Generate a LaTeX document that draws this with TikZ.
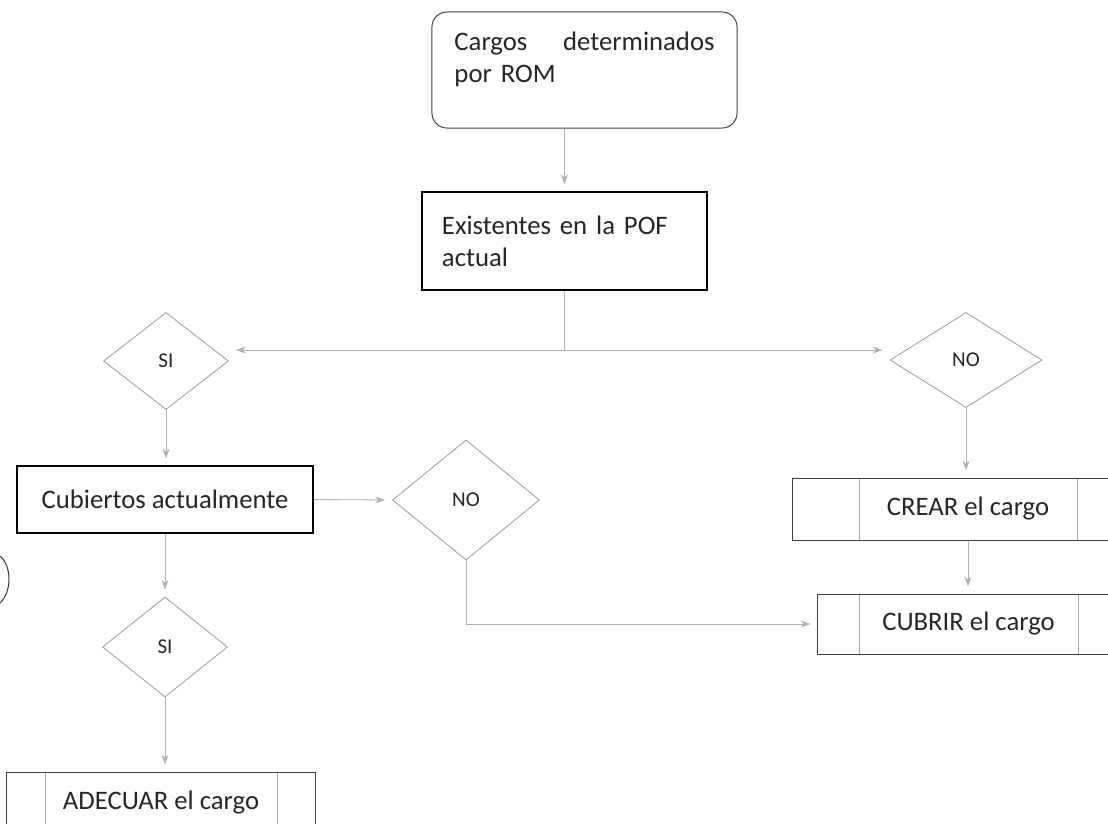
\documentclass[tikz,border=0pt]{standalone}
\usepackage{fontspec}
\setmainfont{Carlito}
\usetikzlibrary{shapes.geometric, arrows.meta}

\tikzset{
  txt/.style={text=black!85, font=\fontsize{19}{23}\selectfont},
  box/.style={txt, rectangle, draw=black, line width=0.9pt, inner sep=0pt},
  roundbox/.style={txt, rectangle, draw=black!75, line width=0.7pt,
    rounded corners=0.375cm, inner sep=0pt},
  decision/.style={diamond, draw=gray!75, line width=0.6pt, inner sep=0pt,
    text=black!85, font=\fontsize{15}{18}\selectfont},
  subproc/.style={txt, rectangle, draw=black!75, line width=0.7pt, inner sep=0pt,
    path picture={
      \draw[gray!70, line width=0.6pt]
        ([xshift=#1]path picture bounding box.north west) --
        ([xshift=#1]path picture bounding box.south west);
      \draw[gray!70, line width=0.6pt]
        ([xshift=-#1]path picture bounding box.north east) --
        ([xshift=-#1]path picture bounding box.south east);
    }},
  link/.style={draw=gray!60, line width=0.6pt},
  arr/.style={link, -{Stealth[length=7pt, width=5pt]}, shorten >=5pt}
}

\begin{document}
\begin{tikzpicture}[x=0.025cm, y=-0.025cm]
    \useasboundingbox (0,0) rectangle (1108,823);

    % top of the chart
    \node[
    roundbox,
    minimum width = 7.625cm,
    minimum height = 2.9cm,
    text width = 6.5cm,
    align = left
    ] (rom) at (584.5,70) {Cargos\hfill determinados\\por ROM\\[-5pt]\mbox{}};
    \node[
    box,
    minimum width = 7.125cm,
    minimum height = 2.45cm,
    text width = 6.125cm,
    align = left
    ] (pof) at (564.5,241) {Existentes en la POF\\actual};
    \coordinate (split) at (564.5,350);

    % left branch
    \node[
    decision,
    minimum width = 3.125cm,
    minimum height = 2.425cm
    ] (si1) at (166,361) {SI};
    \node[
    box,
    minimum width = 7.4cm,
    minimum height = 1.675cm
    ] (cub) at (165,499.5) {Cubiertos actualmente};
    \node[
    decision,
    minimum width = 3.675cm,
    minimum height = 3cm
    ] (nom) at (466,500) {NO};
    \node[
    decision,
    minimum width = 3.125cm,
    minimum height = 2.5cm
    ] (si2) at (165,647) {SI};
    \node[
    subproc = 0.95cm,
    minimum width = 7.7cm,
    minimum height = 1.55cm
    ] (adecuar) at (161,803) {ADECUAR el cargo};

    % right branch
    \node[
    decision,
    minimum width = 3.8cm,
    minimum height = 2.375cm
    ] (nor) at (966,360) {NO};
    \node[
    subproc = 1.65cm,
    minimum width = 8.75cm,
    minimum height = 1.55cm
    ] (crear) at (968,509) {CREAR el cargo};
    \node[
    subproc = 1.025cm,
    minimum width = 7.525cm,
    minimum height = 1.5cm
    ] (cubrir) at (968.5,624) {CUBRIR el cargo};

    % connectors
    \draw[arr] (pof.north |- rom.south) -- (pof.north);
    \draw[link] (pof.south) -- (split);
    \draw[arr] (split) -- (split -| si1.east);
    \draw[arr] (split) -- (split -| nor.west);
    \draw[arr] (si1.south) -- (si1.south |- cub.north);
    \draw[arr] (cub.east) -- (nom.west);
    \draw[arr] (cub.south) -- (si2.north);
    \draw[arr] (si2.south) -- (si2.south |- adecuar.north);
    \draw[arr] (nom.south) |- (cubrir.west);
    \draw[arr] (nor.south) -- (nor.south |- crear.north);
    \draw[arr] (crear.south) -- (crear.south |- cubrir.north);

    % edge of a shape at the left border
    \draw[black!80, line width=0.7pt] (0,556) .. controls (12,566) and (12,592) .. (0,603);
\end{tikzpicture}
\end{document}
